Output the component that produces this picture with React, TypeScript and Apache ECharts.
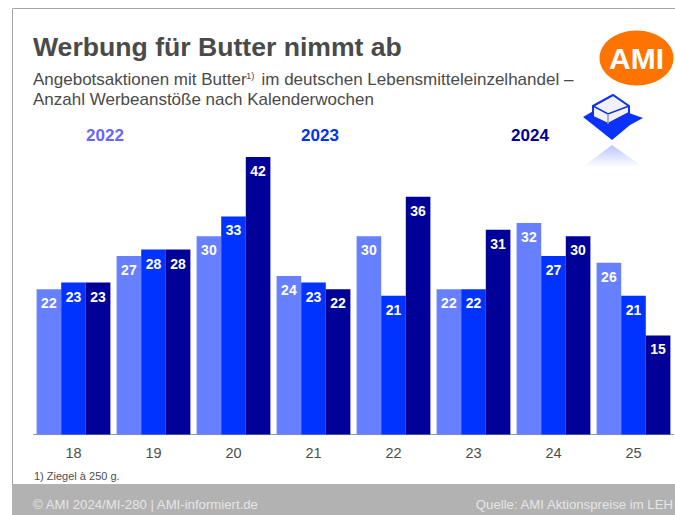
import React, { useEffect, useRef } from "react";
import * as echarts from "echarts";

const weeks = ["18", "19", "20", "21", "22", "23", "24", "25"];
const values2022 = [22, 27, 30, 24, 30, 22, 32, 26];
const values2023 = [23, 28, 33, 23, 21, 22, 27, 21];
const values2024 = [23, 28, 42, 22, 36, 31, 30, 15];
const seriesNames = ["2022", "2023", "2024"];
const seriesColors = ["#6680ff", "#0033ff", "#000099"];
const FONT = "Liberation Sans, Arial, sans-serif";

export default function App() {
  const ref = useRef<HTMLDivElement>(null);
  useEffect(() => {
    if (!ref.current) return;
    const chart = echarts.init(ref.current, undefined, { renderer: "svg" });
    const text = (x: number, y: number, t: string, font: string, fill: string, align = "left") => ({
      type: "text",
      x,
      y,
      silent: true,
      style: { text: t, font, fill, textAlign: align, textVerticalAlign: "middle" },
    });
    const grey = "#4a4a4a";
    chart.setOption({
      animation: false,
      backgroundColor: "#ffffff",
      grid: { left: 33.5, right: 1.5, top: 157, bottom: 80.5, containLabel: false },
      xAxis: {
        type: "category",
        data: weeks,
        axisTick: { show: false },
        axisLine: { lineStyle: { color: "#999999", width: 1 } },
        axisLabel: { color: "#4d4d4d", fontFamily: FONT, fontSize: 14.5, margin: 11 },
      },
      yAxis: { type: "value", min: 0, max: 42, show: false },
      series: [values2022, values2023, values2024].map((data, i) => ({
        type: "bar",
        name: seriesNames[i],
        data,
        barWidth: 24.6,
        barGap: "0%",
        itemStyle: { color: seriesColors[i] },
        label: {
          show: true,
          position: "insideTop",
          distance: 7,
          color: "#ffffff",
          fontFamily: FONT,
          fontWeight: "bold",
          fontSize: 14,
        },
      })),
      graphic: [
        { type: "line", shape: { x1: 12.5, y1: 8.5, x2: 675, y2: 8.5 }, style: { stroke: "#a6a6a6", lineWidth: 1 }, silent: true },
        { type: "line", shape: { x1: 12.5, y1: 8.5, x2: 12.5, y2: 515 }, style: { stroke: "#a6a6a6", lineWidth: 1 }, silent: true },
        { type: "rect", shape: { x: 12, y: 484, width: 663, height: 31 }, style: { fill: "#b2b2b2" }, silent: true },
        text(33, 47, "Werbung für Butter nimmt ab", `bold 26.6px ${FONT}`, grey),
        text(33, 79, "Angebotsaktionen mit Butter", `17px ${FONT}`, grey),
        text(246, 75, "1)", `9.5px ${FONT}`, grey),
        text(261.5, 79, "im deutschen Lebensmitteleinzelhandel –", `17px ${FONT}`, grey),
        text(33, 99, "Anzahl Werbeanstöße nach Kalenderwochen", `17px ${FONT}`, grey),
        text(105, 135, seriesNames[0], `bold 17px ${FONT}`, "#6666ff", "center"),
        text(320, 135, seriesNames[1], `bold 17px ${FONT}`, "#0033ee", "center"),
        text(530, 135, seriesNames[2], `bold 17px ${FONT}`, "#000099", "center"),
        text(34, 476, "1) Ziegel à 250 g.", `11px ${FONT}`, "#4d4d4d"),
        text(33, 504, "© AMI 2024/MI-280 | AMI-informiert.de", `13.2px ${FONT}`, "#e6e6e6"),
        text(673, 504, "Quelle: AMI Aktionspreise im LEH", `13.2px ${FONT}`, "#e6e6e6", "right"),
        { type: "ellipse", shape: { cx: 636.5, cy: 58, rx: 37, ry: 27.5 }, style: { fill: "#ff7300" }, silent: true },
        text(636.5, 58, "AMI", `bold 30px ${FONT}`, "#ffffff", "center"),
        // butter icon: blue paper
        { type: "polygon", shape: { points: [[583, 117], [595, 110], [612, 120], [629, 113], [643, 118], [630, 125], [612, 140], [597, 128]] }, style: { fill: "#0a32ff" }, silent: true },
        // butter block
        { type: "polygon", shape: { points: [[593, 106], [613, 95], [629, 106], [629, 113], [608, 124], [593, 117]] }, style: { fill: "#f2f2f6", stroke: "#1030f0", lineWidth: 2 }, silent: true },
        { type: "polyline", shape: { points: [[593, 106], [608, 114], [629, 106]] }, style: { fill: "none", stroke: "#1030f0", lineWidth: 1.5 }, silent: true },
        { type: "line", shape: { x1: 608, y1: 114, x2: 608, y2: 124 }, style: { stroke: "#8a96d8", lineWidth: 1.5 }, silent: true },
        // reflection
        {
          type: "polygon",
          shape: { points: [[583, 167], [612, 145], [643, 167]] },
          style: {
            fill: new echarts.graphic.LinearGradient(0, 0, 0, 1, [
              { offset: 0, color: "#b9c4ff" },
              { offset: 1, color: "#ffffff" },
            ]),
          },
          silent: true,
        },
      ],
    });
    return () => chart.dispose();
  }, []);
  return <div ref={ref} style={{ position: "fixed", left: 0, top: 0, width: 675, height: 515 }} />;
}
